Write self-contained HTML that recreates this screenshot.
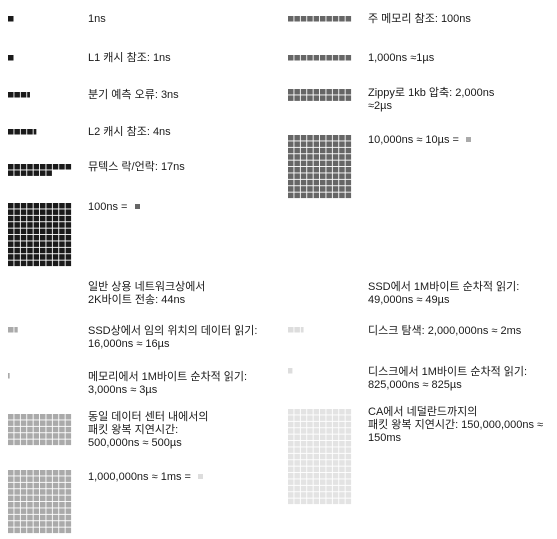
<!DOCTYPE html>
<html><head><meta charset="utf-8"><style>
body{margin:0;width:557px;height:539px;background:#fff;position:relative;overflow:hidden;font-family:"Liberation Sans","Noto Sans CJK KR",sans-serif;font-size:11px;color:#1a1a1a}
.t{position:absolute;line-height:13px;white-space:nowrap}
svg{position:absolute;left:0;top:0}
</style></head><body>
<svg id="chart" width="557" height="539"></svg>
<script>
// values measured in cells of each row's unit
const labels=["1ns","L1 캐시 참조: 1ns","분기 예측 오류: 3ns","L2 캐시 참조: 4ns","뮤텍스 락/언락: 17ns","100ns = ",
"일반 상용 네트워크상에서\n2K바이트 전송: 44ns","SSD상에서 임의 위치의 데이터 읽기:\n16,000ns ≈ 16µs","메모리에서 1M바이트 순차적 읽기:\n3,000ns ≈ 3µs","동일 데이터 센터 내에서의\n패킷 왕복 지연시간:\n500,000ns ≈ 500µs","1,000,000ns ≈ 1ms = ",
"주 메모리 참조: 100ns","1,000ns ≈1µs","Zippy로 1kb 압축: 2,000ns\n≈2µs","10,000ns ≈ 10µs = ",
"SSD에서 1M바이트 순차적 읽기:\n49,000ns ≈ 49µs","디스크 탐색: 2,000,000ns ≈ 2ms","디스크에서 1M바이트 순차적 읽기:\n825,000ns ≈ 825µs","CA에서 네덜란드까지의\n패킷 왕복 지연시간: 150,000,000ns ≈\n150ms"];
const cellValues=[1,1,3.5,4.5,17,100, 0,1.6,0.3,50,100, 10,10,20,100, 0,2.5,0.8,150];
const colors=["#1a1a1a","#1a1a1a","#1a1a1a","#1a1a1a","#1a1a1a","#1a1a1a","#aaa","#aaa","#aaa","#aaa","#aaa","#666","#666","#666","#666","#ddd","#ddd","#ddd","#e3e3e3"];
const unitSquareColor=[null,null,null,null,null,"#666",null,null,null,null,"#ddd",null,null,null,"#aaa",null,null,null,null];
const col=[0,0,0,0,0,0,0,0,0,0,0,1,1,1,1,1,1,1,1];
const rowTop=[16,55,92,129,164,203,281,327,373,414,470,16,55,89,135,281,327,368,409];
const textTop=[13,52,89,126,161,201,281,325,371,411,471,13,52,87,134,281,325,366,406];
const svg=document.getElementById('chart');
const NS='http://www.w3.org/2000/svg';
const pitch=6.4,sz=5.5;
const gx=c=>c?288:8, tx=c=>c?368:88;
labels.forEach((lab,i)=>{
  const v=cellValues[i];const full=Math.floor(v);const frac=v-full;
  for(let k=0;k<Math.ceil(v);k++){
    const r=document.createElementNS(NS,'rect');
    const w=k<full?sz:Math.max(1,frac*sz);
    r.setAttribute('x',gx(col[i])+(k%10)*pitch);
    r.setAttribute('y',rowTop[i]+Math.floor(k/10)*pitch);
    r.setAttribute('width',w);r.setAttribute('height',sz);
    r.setAttribute('fill',colors[i]);
    
    
    svg.appendChild(r);
  }
  const d=document.createElement('div');
  d.className='t';
  d.style.left=tx(col[i])+'px';d.style.top=textTop[i]+'px';
  d.innerHTML=lab.split('\n').join('<br>');
  
  
  document.body.appendChild(d);
  if(unitSquareColor[i]){
    const s=document.createElement('span');
    s.style.cssText='display:inline-block;width:5px;height:5px;margin-left:4px;vertical-align:1px;background:'+unitSquareColor[i];
    
    
    d.appendChild(s);
  }
});
</script>
</body></html>
